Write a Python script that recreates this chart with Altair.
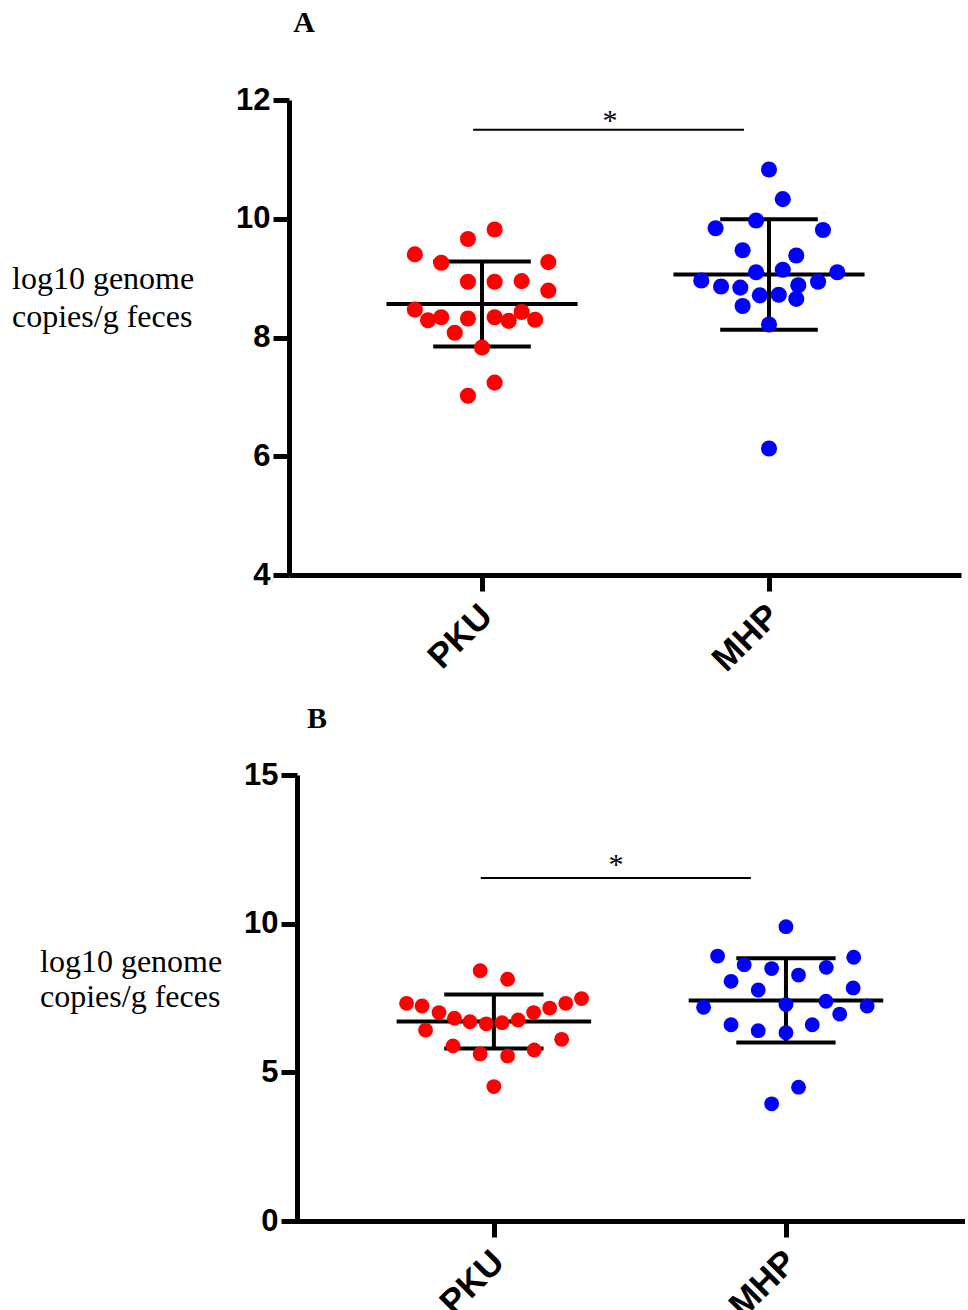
import altair as alt
import pandas as pd

groups = ["PKU", "MHP"]
colors = ["#ff0000", "#0000ff"]

# ---------------- Panel A ----------------
a_pku_y = [9.40, 9.26, 9.66, 9.82, 9.27, 8.94, 8.94, 8.95, 8.79, 8.47, 8.29,
           8.34, 8.32, 8.08, 8.34, 8.28, 8.43, 8.30, 7.83, 7.24, 7.02]
a_pku_dx = [-0.234, -0.142, -0.049, 0.044, 0.231, -0.049, 0.044, 0.138, 0.231, -0.234, -0.188,
            -0.142, -0.049, -0.095, 0.044, 0.093, 0.138, 0.185, 0.0, 0.044, -0.049]
a_mhp_y = [10.83, 10.33, 9.97, 9.84, 9.81, 9.47, 9.38, 9.10, 9.14, 9.10, 8.96,
           8.86, 8.84, 8.88, 8.94, 8.71, 8.72, 8.65, 8.53, 8.22, 6.13]
a_mhp_dx = [0.0, 0.048, -0.045, -0.186, 0.188, -0.092, 0.095, -0.045, 0.048, 0.238, -0.236,
            -0.167, -0.100, 0.102, 0.171, -0.032, 0.034, 0.095, -0.092, 0.0, 0.0]
a_mean = [8.565, 9.06]
a_sd = [0.715, 0.93]
a_yticks = [4, 6, 8, 10, 12]
a_sig_x = [0.969, 1.913]
a_sig_y = 11.50
a_star = [1.446, 11.50]

# ---------------- Panel B ----------------
b_pku_y = [8.42, 8.13, 7.32, 7.23, 7.01, 6.82, 6.70, 6.63, 6.67, 6.76, 7.01,
           7.16, 7.32, 7.48, 6.42, 5.89, 5.62, 5.55, 5.75, 6.11, 4.52]
b_pku_dx = [-0.047, 0.047, -0.299, -0.246, -0.188, -0.135, -0.082, -0.026, 0.028, 0.083, 0.136,
            0.191, 0.246, 0.300, -0.234, -0.140, -0.047, 0.047, 0.138, 0.232, 0.0]
b_mhp_y = [9.90, 8.91, 8.87, 8.62, 8.49, 8.53, 8.27, 8.06, 7.77, 7.84, 7.28,
           7.39, 7.19, 7.23, 6.96, 6.60, 6.40, 6.33, 6.60, 4.50, 3.94]
b_mhp_dx = [0.0, -0.234, 0.232, -0.143, -0.049, 0.138, 0.043, -0.188, -0.095, 0.230, 0.0,
            0.137, -0.282, 0.278, 0.184, -0.188, -0.095, 0.0, 0.090, 0.043, -0.049]
b_mean = [6.71, 7.42]
b_sd = [0.91, 1.42]
b_yticks = [0, 5, 10, 15]
b_sig_x = [0.955, 1.880]
b_sig_y = 11.54
b_star = [1.418, 11.68]

y_title_lines = ["log10 genome", "copies/g feces"]

# style constants
MEAN_HALF = 0.333
CAP_HALF = 0.17
SANS = "Liberation Sans"
SERIF = "Liberation Serif"


def panel(pku_y, pku_dx, mhp_y, mhp_dx, means, sds, yticks, x_domain, y_domain,
          width, height, sig_x, sig_y, star, letter, letter_xy, title_xy, y_offset, dot):
    pts = pd.DataFrame({
        "group": [groups[0]] * len(pku_y) + [groups[1]] * len(mhp_y),
        "x": [1 + d for d in pku_dx] + [2 + d for d in mhp_dx],
        "value": pku_y + mhp_y,
    })
    st = pd.DataFrame({"group": groups, "pos": [1, 2], "mean": means, "sd": sds})
    st["lo"] = st["mean"] - st["sd"]
    st["hi"] = st["mean"] + st["sd"]
    st["m1"] = st["pos"] - MEAN_HALF
    st["m2"] = st["pos"] + MEAN_HALF
    st["c1"] = st["pos"] - CAP_HALF
    st["c2"] = st["pos"] + CAP_HALF

    xs = alt.Scale(domain=x_domain, nice=False, zero=False)
    ys = alt.Scale(domain=y_domain, nice=False, zero=False)
    xaxis = alt.Axis(values=[1, 2], labelExpr="datum.value == 1 ? 'PKU' : 'MHP'",
                     labelAngle=-45, title=None, grid=False, labelPadding=7,
                     labelOffset=-8, labelFontSize=35)
    yaxis = alt.Axis(values=yticks, title=None, grid=False, offset=y_offset, labelPadding=3)

    def X(f):
        return alt.X(f, scale=xs, axis=xaxis)

    def Y(f):
        return alt.Y(f, scale=ys, axis=yaxis)

    bs = alt.Chart(st)
    vbar = bs.mark_rule(color="black", strokeWidth=4).encode(
        x=X("pos:Q"), y=Y("lo:Q"), y2="hi:Q")
    mean_r = bs.mark_rule(color="black", strokeWidth=4).encode(
        x=X("m1:Q"), x2="m2:Q", y=Y("mean:Q"))
    cap_hi = bs.mark_rule(color="black", strokeWidth=4).encode(
        x=X("c1:Q"), x2="c2:Q", y=Y("hi:Q"))
    cap_lo = bs.mark_rule(color="black", strokeWidth=4).encode(
        x=X("c1:Q"), x2="c2:Q", y=Y("lo:Q"))
    points = alt.Chart(pts).mark_circle(size=dot, opacity=1).encode(
        x=X("x:Q"), y=Y("value:Q"),
        color=alt.Color("group:N", scale=alt.Scale(domain=groups, range=colors), legend=None))
    sig_df = pd.DataFrame({"x1": [sig_x[0]], "x2": [sig_x[1]], "y": [sig_y]})
    sig = alt.Chart(sig_df).mark_rule(color="black", strokeWidth=2).encode(
        x=X("x1:Q"), x2="x2:Q", y=Y("y:Q"))
    star_df = pd.DataFrame({"x": [star[0]], "y": [star[1]], "t": ["*"]})
    star_t = alt.Chart(star_df).mark_text(font=SERIF, fontSize=30, baseline="alphabetic",
                                           align="center", color="black").encode(
        x=X("x:Q"), y=Y("y:Q"), text="t:N")
    let_df = pd.DataFrame({"t": [letter]})
    let_t = alt.Chart(let_df).mark_text(font=SERIF, fontSize=30, fontWeight="bold",
                                         baseline="alphabetic", align="center", color="black").encode(
        x=alt.value(letter_xy[0]), y=alt.value(letter_xy[1]), text="t:N")
    t1 = alt.Chart(pd.DataFrame({"t": [y_title_lines[0]]})).mark_text(
        font=SERIF, fontSize=32, baseline="alphabetic", align="left", color="black").encode(
        x=alt.value(title_xy[0]), y=alt.value(title_xy[1]), text="t:N")
    t2 = alt.Chart(pd.DataFrame({"t": [y_title_lines[1]]})).mark_text(
        font=SERIF, fontSize=32, baseline="alphabetic", align="left", color="black").encode(
        x=alt.value(title_xy[0]), y=alt.value(title_xy[1] + title_xy[2]), text="t:N")

    return alt.layer(vbar, mean_r, cap_hi, cap_lo, sig, star_t, points, let_t, t1, t2).properties(
        width=width, height=height)


pA = panel(a_pku_y, a_pku_dx, a_mhp_y, a_mhp_dx, a_mean, a_sd, a_yticks,
           [0.3275, 2.669], [4, 12], 672, 475, a_sig_x, a_sig_y, a_star,
           "A", (15, -68), (-277, 189, 38), 0, 260)
pB = panel(b_pku_y, b_pku_dx, b_mhp_y, b_mhp_dx, b_mean, b_sd, b_yticks,
           [0.2985, 2.6130], [0, 15], 676, 446, b_sig_x, b_sig_y, b_star,
           "B", (28, -47), (-249, 197, 35), -8, 220)

chart = alt.vconcat(pA, pB, spacing=200, bounds="flush").properties(
    padding={"left": 12, "top": 8, "right": 0, "bottom": 0}
).configure_view(stroke=None).configure_axis(
    labelFont=SANS, labelFontWeight="bold", labelFontSize=31, labelColor="black",
    domainColor="black", domainWidth=5, tickColor="black", tickWidth=5, tickSize=16,
    grid=False
)

chart.save("out.html", embed_options={"renderer": "svg", "actions": False})
